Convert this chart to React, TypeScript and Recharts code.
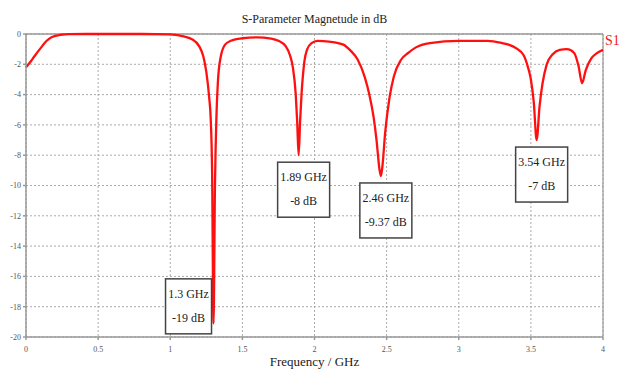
import { LineChart, Line, XAxis, YAxis, CartesianGrid, ReferenceLine, ReferenceDot } from 'recharts'

// S-parameter trace
const freqGHz = [
  0, 0.03, 0.06, 0.1, 0.14, 0.18, 0.24, 0.3, 0.5, 0.8, 1.0, 1.1, 1.15, 1.2, 1.23, 1.25, 1.27, 1.28, 1.29, 1.3,
  1.31, 1.32, 1.33, 1.35, 1.38, 1.42, 1.5, 1.6, 1.7, 1.75, 1.8, 1.83, 1.85, 1.87, 1.88, 1.89, 1.9, 1.91, 1.93,
  1.95, 1.98, 2.02, 2.1, 2.2, 2.25, 2.3, 2.35, 2.38, 2.41, 2.43, 2.45, 2.46, 2.47, 2.49, 2.52, 2.55, 2.6, 2.65,
  2.7, 2.8, 3.0, 3.2, 3.3, 3.35, 3.4, 3.45, 3.48, 3.5, 3.52, 3.54, 3.56, 3.58, 3.61, 3.65, 3.7, 3.75, 3.8, 3.83,
  3.855, 3.88, 3.92, 3.96, 4.0,
]
const s11dB = [
  -2.2, -1.85, -1.45, -0.95, -0.48, -0.2, -0.05, -0.01, 0, 0, -0.03, -0.18, -0.35, -0.8, -1.5, -2.5, -4.2, -5.5, -9, -19.1,
  -10, -5.5, -3.2, -1.5, -0.7, -0.45, -0.28, -0.22, -0.3, -0.45, -0.8, -1.4, -2.2, -4, -5.8, -8, -5.8, -4, -1.8,
  -1.0, -0.6, -0.45, -0.5, -0.7, -1.1, -1.7, -2.9, -4.0, -5.5, -7, -8.9, -9.37, -8.8, -6.5, -4.2, -2.8, -1.7, -1.25,
  -0.9, -0.6, -0.46, -0.46, -0.6, -0.72, -0.95, -1.4, -2.2, -3.0, -4.5, -7, -4.8, -3.3, -2.0, -1.35, -1.05, -1.0, -1.25, -2.1,
  -3.25, -2.4, -1.6, -1.25, -1.05,
]

// marker boxes
const markerFreq = [1.3, 1.89, 2.46, 3.54]
const markerDb = [-19, -8, -9.37, -7]
const markerSide = ['left', 'below', 'below', 'below']

const xTicks = [0, 0.5, 1, 1.5, 2, 2.5, 3, 3.5, 4]
const yTicks = [0, -2, -4, -6, -8, -10, -12, -14, -16, -18, -20]

const data = freqGHz.map((f, i) => ({ f, db: s11dB[i] }))

const SERIF = 'Liberation Serif, serif'

const MarkerBox = ({ cx, cy, f, db, side }: any) => {
  const l1 = `${f} GHz`
  const l2 = `${db} dB`
  const w = 4 + Math.max(l1.length, l2.length) * 6
  const h = 55
  const x = side === 'left' ? cx - w - 2 : cx - 21
  const y = side === 'left' ? cy - 43 : cy + 7
  return (
    <g>
      <rect x={x} y={y} width={w} height={h} fill="#fff" stroke="#444" strokeWidth={1.5} />
      <text x={x + w / 2} y={y + 19} textAnchor="middle" fontFamily={SERIF} fontSize={12} fill="#222">{l1}</text>
      <text x={x + w / 2} y={y + 43} textAnchor="middle" fontFamily={SERIF} fontSize={12} fill="#222">{l2}</text>
    </g>
  )
}

export default function App() {
  return (
    <div style={{ position: 'absolute', left: 0, top: 0, width: 621, height: 371, background: '#fff' }}>
      <div style={{ position: 'absolute', left: 0, width: 629, top: 12, textAlign: 'center', fontFamily: SERIF, fontSize: 12, color: '#222' }}>
        S-Parameter Magnetude in dB
      </div>
      <LineChart width={621} height={371} data={data} margin={{ top: 34, right: 18, bottom: 0, left: 0 }}>
        <CartesianGrid stroke="#aaa" strokeDasharray="2 2" horizontalValues={yTicks} verticalValues={xTicks} />
        <XAxis
          type="number"
          dataKey="f"
          domain={[0, 4]}
          ticks={xTicks}
          height={34}
          stroke="#999"
          strokeWidth={1.5}
          tickSize={3}
          tickMargin={6}
          tick={{ fill: '#555', fontSize: 8, fontFamily: SERIF }}
        />
        <YAxis
          type="number"
          domain={[-20, 0]}
          ticks={yTicks}
          width={26}
          stroke="#999"
          strokeWidth={1.5}
          tickSize={3}
          tickMargin={2}
          tick={{ fill: '#555', fontSize: 8, fontFamily: SERIF }}
        />
        <ReferenceLine y={0} stroke="#999" strokeWidth={1.5} />
        <ReferenceLine x={4} stroke="#999" strokeWidth={1.2} />
        <Line
          type="monotone"
          dataKey="db"
          stroke="#ff1010"
          strokeWidth={2.3}
          dot={false}
          isAnimationActive={false}
        />
        {markerFreq.map((f, i) => (
          <ReferenceDot
            key={f}
            x={f}
            y={markerDb[i]}
            r={0}
            shape={(p: any) => <MarkerBox cx={p.cx} cy={p.cy} f={f} db={markerDb[i]} side={markerSide[i]} />}
          />
        ))}
      </LineChart>
      <div style={{ position: 'absolute', left: 605, top: 33, fontFamily: SERIF, fontSize: 14, color: '#f02020' }}>S1</div>
      <div style={{ position: 'absolute', left: 0, width: 629, top: 354, textAlign: 'center', fontFamily: SERIF, fontSize: 13, color: '#222' }}>
        Frequency / GHz
      </div>
    </div>
  )
}
